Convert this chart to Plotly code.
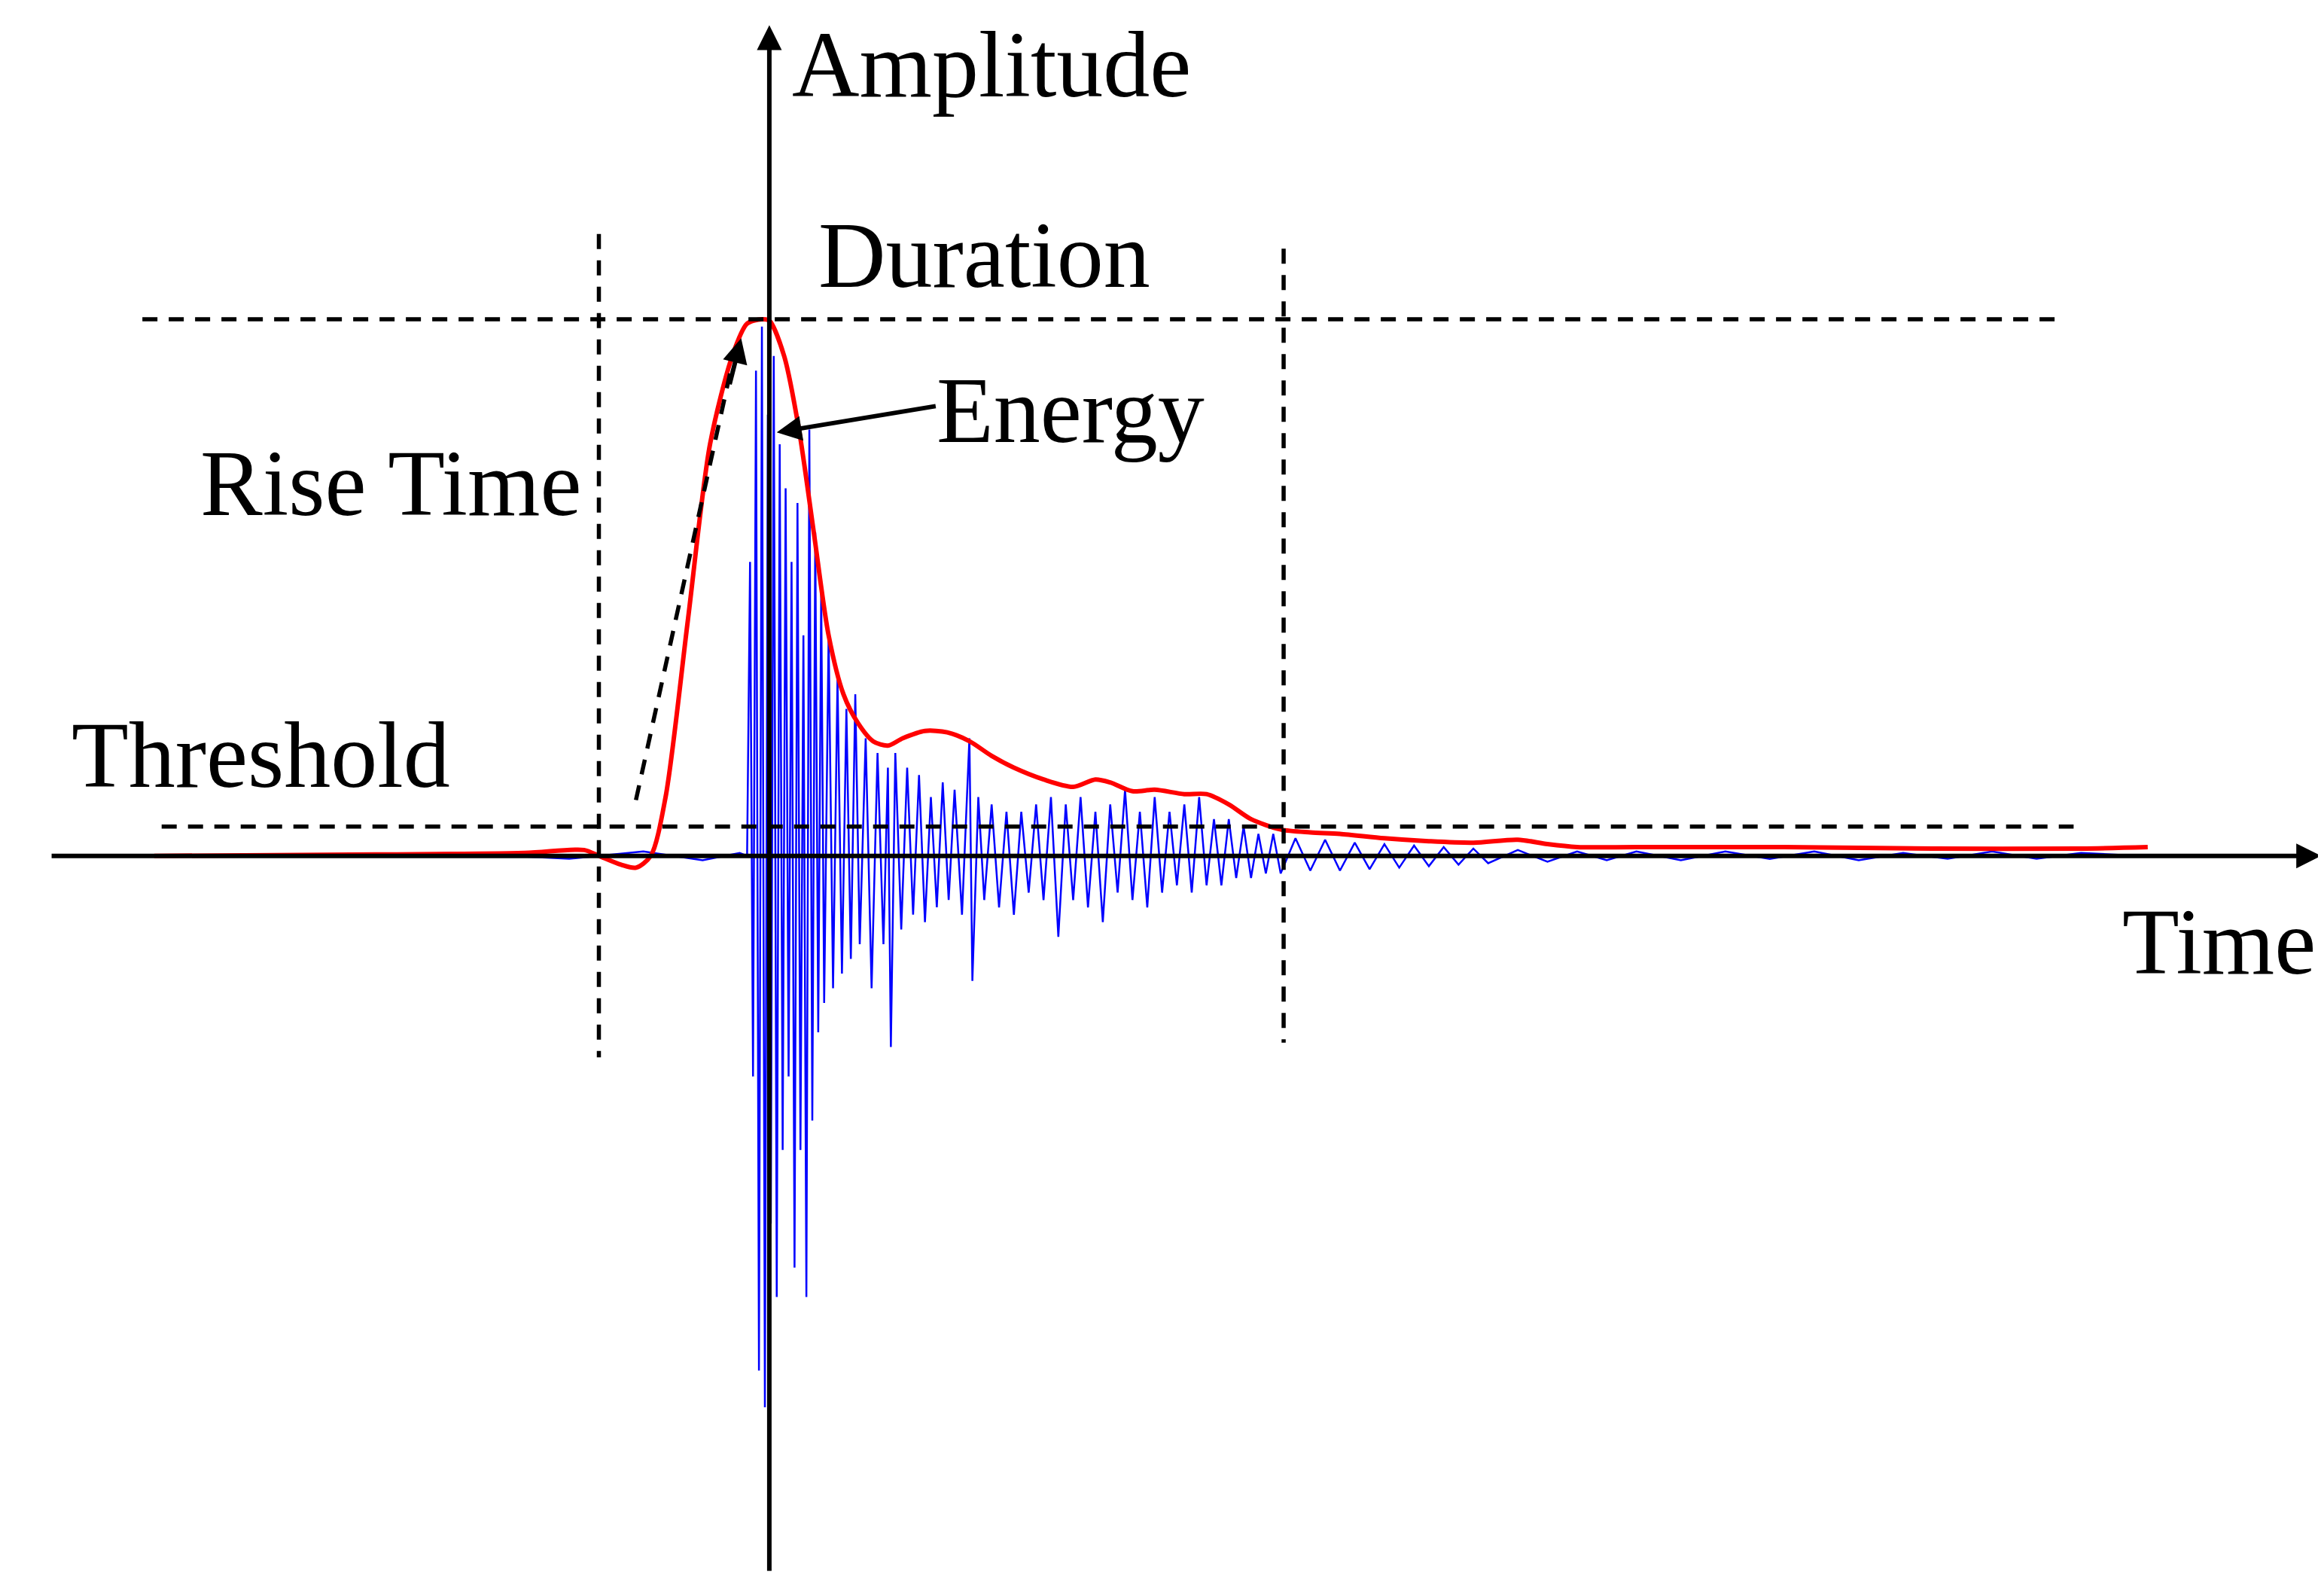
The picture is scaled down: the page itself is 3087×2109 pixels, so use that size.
import plotly.graph_objects as go

# coordinates: x in drawing units, y = amplitude above the time axis
wave_x = [220, 300, 380, 430, 470, 495, 500, 502, 504, 506, 508, 510, 512, 514, 516, 518, 520, 522, 524, 526,
          528, 530, 532, 534, 536, 538, 540, 542, 544, 546, 548, 550, 552, 555, 558, 561, 564, 567, 570, 573,
          576, 580, 584, 588, 592, 595, 597, 600, 604, 608, 612, 616, 620, 624, 628, 632, 636, 640, 645, 650,
          652, 656, 660, 665, 670, 675, 680, 685, 690, 695, 700, 705, 710, 715, 720, 725, 730, 735, 740, 745,
          750, 755, 760, 765, 770, 775, 780, 785, 790, 795, 800, 805, 810, 815, 820, 825, 830, 835, 840, 845,
          850, 855, 860, 870, 880, 890, 900, 910, 920, 930, 940, 950, 960, 970, 980, 990, 1000, 1020, 1040, 1060,
          1080, 1100, 1130, 1160, 1190, 1220, 1250, 1280, 1310, 1340, 1370, 1400, 1440]
wave_y = [0, 2, -2, 3, -3, 2, 0, 200, -150, 330, -350, 360, -375, 300, -250, 340, -300, 280, -200, 250,
          -150, 200, -280, 240, -200, 150, -300, 290, -180, 220, -120, 180, -100, 150, -90, 120, -80, 100, -70, 110,
          -60, 80, -90, 70, -60, 60, -130, 70, -50, 60, -40, 55, -45, 40, -35, 50, -30, 45, -40, 80,
          -85, 40, -30, 35, -35, 30, -40, 30, -25, 35, -30, 40, -55, 35, -30, 40, -35, 30, -45, 35,
          -25, 45, -30, 30, -35, 40, -25, 30, -20, 35, -25, 40, -20, 25, -20, 25, -15, 20, -15, 15,
          -12, 15, -12, 12, -10, 11, -10, 9, -9, 8, -8, 7, -7, 6, -6, 5, -5, 4, -4, 3,
          -3, 3, -3, 3, -2, 3, -3, 2, -2, 3, -2, 2, 0]

env_x = [100, 250, 350, 390, 400, 415, 425, 435, 445, 460, 475, 490, 500, 510, 515, 525, 535, 545, 555, 565,
         575, 585, 595, 605, 620, 635, 650, 665, 680, 700, 720, 735, 745, 760, 775, 795, 810, 825, 840, 860,
         880, 900, 930, 960, 990, 1020, 1040, 1060, 1100, 1200, 1300, 1400, 1445]
env_y = [0, 1, 2, 4, 0, -6, -8, 0, 40, 160, 280, 340, 362, 365, 364, 340, 290, 220, 150, 110,
         90, 78, 75, 80, 85, 84, 78, 68, 60, 52, 47, 52, 50, 44, 45, 42, 42, 35, 25, 18,
         16, 15, 12, 10, 9, 11, 8, 6, 6, 6, 5, 5, 6]

peak_level = 365
threshold_level = 20
duration_start, duration_end = 400, 862

fig = go.Figure()
fig.add_trace(go.Scatter(x=wave_x, y=wave_y, mode="lines", line=dict(color="#0000ff", width=2.5)))
fig.add_trace(go.Scatter(x=env_x, y=env_y, mode="lines",
                         line=dict(color="#ff0000", width=6, shape="spline", smoothing=0.8)))

dash = dict(color="black", width=5.5, dash="20px,15px")
fig.add_shape(type="line", x0=92, x1=1385, y0=peak_level, y1=peak_level, line=dash)
fig.add_shape(type="line", x0=105, x1=1395, y0=threshold_level, y1=threshold_level, line=dash)
fig.add_shape(type="line", x0=duration_start, x1=duration_start, y0=423, y1=-137, line=dash)
fig.add_shape(type="line", x0=duration_end, x1=duration_end, y0=413, y1=-127, line=dash)
fig.add_shape(type="line", x0=425, x1=490, y0=38, y1=335, line=dash)

arrows = [
    dict(x=1562, y=0, ax=30, ay=0),
    dict(x=515, y=565, ax=515, ay=-487),
    dict(x=496, y=352, ax=488, ay=320),
    dict(x=520, y=288, ax=628, ay=306),
]
for a in arrows:
    fig.add_annotation(x=a["x"], y=a["y"], ax=a["ax"], ay=a["ay"], xref="x", yref="y", axref="x", ayref="y",
                       text="", showarrow=True, arrowhead=2, arrowsize=1.1, arrowwidth=6, arrowcolor="black")

labels = [("Amplitude", 665, 538), ("Duration", 660, 408), ("Energy", 718, 303),
          ("Rise Time", 260, 253), ("Threshold", 172, 68), ("Time", 1493, -59)]
for t, x, y in labels:
    fig.add_annotation(x=x, y=y, text=t, showarrow=False, xref="x", yref="y",
                       font=dict(family="Liberation Serif", size=124, color="black"))

fig.update_layout(width=3087, height=2109, margin=dict(l=0, r=0, t=0, b=0),
                  plot_bgcolor="white", paper_bgcolor="white", showlegend=False,
                  xaxis=dict(range=[0, 1568], visible=False),
                  yaxis=dict(range=[-502, 578], visible=False))
fig.write_html("out.html")
